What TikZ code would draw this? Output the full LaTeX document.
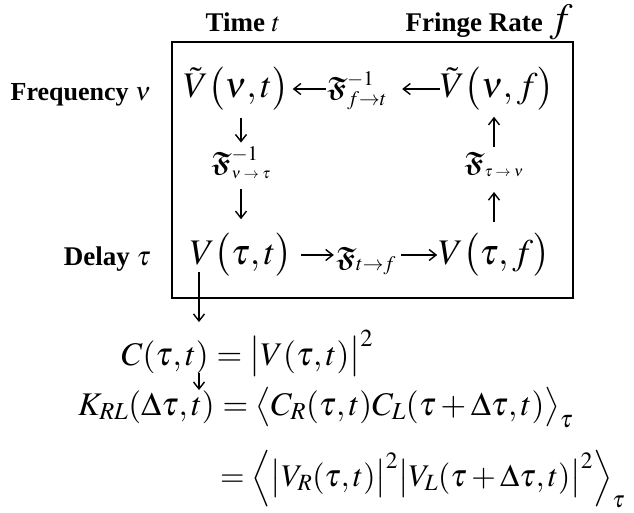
\documentclass[tikz,border=0pt]{standalone}
\usepackage{mathptmx}
\usepackage{amssymb,amsmath}
\usepackage{fontspec}
\setmainfont{Liberation Serif}
\usetikzlibrary{arrows.meta}

\newcommand{\frF}{\boldsymbol{\mathfrak{F}}}
\newcommand{\smsub}[1]{\text{\fontsize{15}{15}\selectfont$#1$}}

\begin{document}
\begin{tikzpicture}[x=1pt, y=-1pt,
	lab/.style={font=\fontsize{27}{30}\selectfont\bfseries, inner sep=0pt},
	mth/.style={font=\fontsize{36}{40}\selectfont, inner sep=0pt},
	eqn/.style={font=\fontsize{33}{38}\selectfont, inner sep=0pt},
	op/.style={font=\fontsize{28}{32}\selectfont, inner sep=0pt},
	arr/.style={-{Straight Barb[length=7pt,width=11pt]}, line width=1.4pt}]
	\useasboundingbox (0,0) rectangle (634,513);
	\draw[line width=2.5pt] (172,42) rectangle (573,298);
	% axis labels
	\node[lab, anchor=base] (time) at (243,32) {Time $t$};
	\node[lab, anchor=base] (rate) at (489,32) {Fringe Rate {\fontsize{40}{44}\selectfont$f$}};
	\node[lab, anchor=base east, font=\fontsize{26}{30}\selectfont\bfseries] (freq) at (151,101) {Frequency $\nu$};
	\node[lab, anchor=base east] (delay) at (151,265) {Delay $\tau$};
	% the four planes
	\node[mth, anchor=base] (Vnt) at (236,98) {$\tilde V\bigl(\nu,t\bigr)$};
	\node[mth, anchor=base] (Vnf) at (497,98) {$\tilde V\bigl(\nu,f\bigr)$};
	\node[mth, anchor=base] (Vtt) at (241,264) {$V\bigl(\tau,t\bigr)$};
	\node[mth, anchor=base] (Vtf) at (494,264) {$V\bigl(\tau,f\bigr)$};
	% transforms
	\node[op, anchor=base] (Fft) at (357,97) {$\frF^{-1}_{f\to t}$};
	\node[op, anchor=base] (Ftf) at (366,266) {$\frF_{t\to f}$};
	\node[op, anchor=base] (Fnt) at (241,172) {$\frF^{-1}_{\smsub{\nu\to\tau}}$};
	\node[op, anchor=base] (Ftn) at (494,172) {$\frF_{\smsub{\tau\to\nu}}$};
	\draw[arr, shorten <=1pt, shorten >=4pt] ([yshift=9pt]Vnt.base east -| Fft.west) -- ([yshift=9pt]Vnt.base east);
	\draw[arr, shorten >=15pt] ([yshift=9pt]Vnf.base west) -- ([yshift=9pt]Vnf.base west -| Fft.east);
	\draw[arr, shorten <=9pt, shorten >=2pt] ([yshift=9pt]Vtt.base east) -- ([yshift=9pt]Vtt.base east -| Ftf.west);
	\draw[arr, shorten <=5pt, shorten >=1pt] ([yshift=9pt]Vtf.base west -| Ftf.east) -- ([yshift=9pt]Vtf.base west);
	\draw[arr, shorten <=7pt, shorten >=4pt] (Vnt.south -| Fnt.north) -- (Fnt.north);
	\draw[arr, shorten <=10pt, shorten >=14pt] (Fnt.south) -- (Vtt.north -| Fnt.south);
	\draw[arr, shorten <=11pt, shorten >=15pt] (Vtf.north -| Ftn.south) -- (Ftn.south);
	\draw[arr, shorten <=5pt, shorten >=6pt] (Ftn.north) -- (Vnf.south -| Ftn.north);
	% correlation
	\coordinate (tcol) at (199,0);
	\node[eqn, anchor=base east] (Clhs) at (209,365) {$C(\tau,t)$};
	\node[eqn, anchor=base west] (Crhs) at (209,365) {${}=\bigl|V(\tau,t)\bigr|^2$};
	\node[eqn, anchor=base east] (Klhs) at (215,415) {$K_{RL}(\Delta\tau,t)$};
	\node[eqn, anchor=base west] (Krhs) at (215,415) {${}=\bigl\langle C_R(\tau,t)C_L(\tau+\Delta\tau,t)\bigr\rangle_\tau$};
	\node[eqn, anchor=base west, font=\fontsize{31.5}{36}\selectfont] (Kalt) at (213,486) {${}=\Bigl\langle\bigl|V_R(\tau,t)\bigr|^2\bigl|V_L(\tau+\Delta\tau,t)\bigr|^2\Bigr\rangle_\tau$};
	\draw[arr, shorten <=8pt, shorten >=18pt] (Vtt.base -| tcol) -- (Clhs.north -| tcol);
	\draw[arr] (Clhs.south -| tcol) -- (Klhs.north -| tcol);
\end{tikzpicture}
\end{document}
